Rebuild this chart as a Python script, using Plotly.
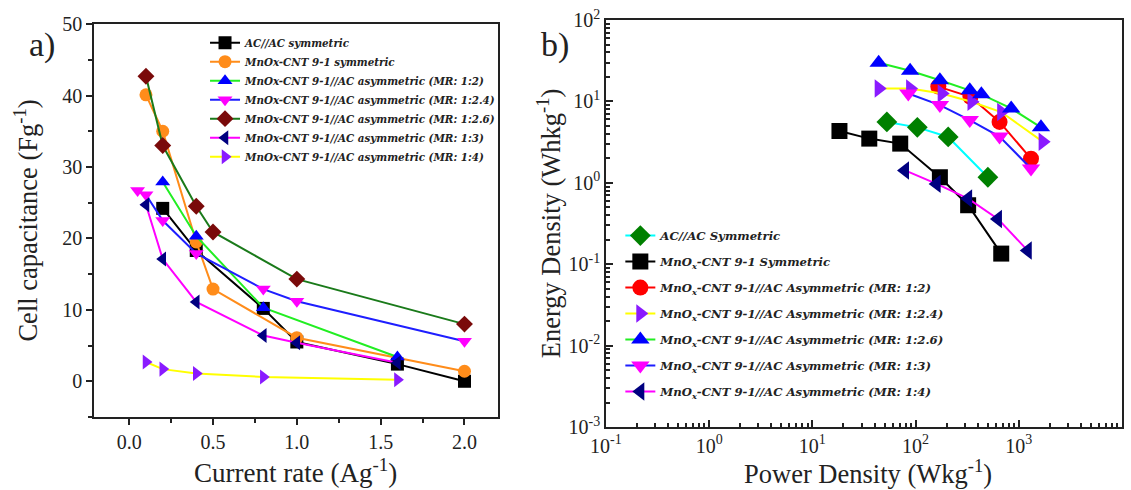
import math
import plotly.graph_objects as go

# ---------------- Panel a) : cell capacitance vs current rate ----------------
cur_ac = [0.2, 0.4, 0.8, 1.0, 1.6, 2.0]
cap_ac = [24.2, 18.3, 10.2, 5.5, 2.4, 0.0]

cur_mno = [0.1, 0.2, 0.4, 0.5, 1.0, 2.0]
cap_mno = [40.1, 35.0, 19.5, 12.9, 6.1, 1.4]

cur_mr2 = [0.2, 0.4, 0.8, 1.6]
cap_mr2 = [27.9, 20.3, 10.3, 3.4]

cur_mr24 = [0.05, 0.1, 0.2, 0.4, 0.8, 1.0, 2.0]
cap_mr24 = [26.7, 26.1, 22.5, 17.9, 12.9, 11.2, 5.6]

cur_mr26 = [0.1, 0.2, 0.4, 0.5, 1.0, 2.0]
cap_mr26 = [42.7, 33.0, 24.5, 20.9, 14.3, 8.0]

cur_mr3 = [0.1, 0.2, 0.4, 0.8, 1.0, 1.6]
cap_mr3 = [24.7, 17.1, 11.1, 6.4, 5.4, 2.6]

cur_mr4 = [0.1, 0.2, 0.4, 0.8, 1.6]
cap_mr4 = [2.7, 1.7, 1.1, 0.6, 0.2]

# ---------------- Panel b) : Ragone plot ----------------
pw_ac = [52.7, 104, 207, 502]
en_ac = [5.6, 4.8, 3.66, 1.17]

pw_mno = [18.3, 35.6, 71, 172, 323, 676]
en_mno = [4.33, 3.49, 3.03, 1.17, 0.53, 0.135]

pw_mr2 = [166, 340, 651, 1313]
en_mr2 = [15.2, 11.4, 5.6, 1.98]

pw_mr24 = [43.9, 88.5, 179, 348, 675, 1703]
en_mr24 = [14.4, 14.4, 12.5, 9.9, 7.4, 3.2]

pw_mr26 = [43.9, 88.5, 172, 335, 434, 844, 1640]
en_mr26 = [29.8, 23.8, 18.2, 13.7, 12.2, 8.2, 4.8]

pw_mr3 = [85, 172, 335, 651, 1313]
en_mr3 = [12.5, 9.0, 5.9, 3.7, 1.5]

pw_mr4 = [79, 160, 323, 628, 1222]
en_mr4 = [1.42, 0.97, 0.64, 0.36, 0.147]

names_a = ["AC//AC symmetric", "MnOx-CNT 9-1 symmetric",
           "MnOx-CNT 9-1//AC asymmetric (MR: 1:2)",
           "MnOx-CNT 9-1//AC asymmetric (MR: 1:2.4)",
           "MnOx-CNT 9-1//AC asymmetric (MR: 1:2.6)",
           "MnOx-CNT 9-1//AC asymmetric (MR: 1:3)",
           "MnOx-CNT 9-1//AC asymmetric (MR: 1:4)"]
names_b = ["AC//AC Symmetric", "MnO<sub>x</sub>-CNT 9-1 Symmetric",
           "MnO<sub>x</sub>-CNT 9-1//AC Asymmetric (MR: 1:2)",
           "MnO<sub>x</sub>-CNT 9-1//AC Asymmetric (MR: 1:2.4)",
           "MnO<sub>x</sub>-CNT 9-1//AC Asymmetric (MR: 1:2.6)",
           "MnO<sub>x</sub>-CNT 9-1//AC Asymmetric (MR: 1:3)",
           "MnO<sub>x</sub>-CNT 9-1//AC Asymmetric (MR: 1:4)"]

SERIF = "Liberation Serif"
LEGSERIF = "DejaVu Serif"
fig = go.Figure()


def add(x, y, name, lc, mc, sym, size, xa, ya, leg, grp=None):
    fig.add_trace(go.Scatter(
        x=x, y=y, name=name, mode="lines+markers",
        line=dict(color=lc, width=2),
        marker=dict(color=mc, symbol=sym, size=size, line=dict(width=0)),
        xaxis=xa, yaxis=ya, legend=leg, legendgroup=grp))


# panel a
sa = 13
add(cur_ac, cap_ac, names_a[0], "#000000", "#000000", "square", sa, "x", "y", "legend")
add(cur_mno, cap_mno, names_a[1], "#FF8C1A", "#FF8C1A", "circle", sa, "x", "y", "legend")
add(cur_mr2, cap_mr2, names_a[2], "#22EE22", "#0000FF", "triangle-up", sa, "x", "y", "legend")
add(cur_mr24, cap_mr24, names_a[3], "#1E1EFF", "#FF00FF", "triangle-down", sa, "x", "y", "legend")
add(cur_mr26, cap_mr26, names_a[4], "#1A7A1A", "#7A0A0A", "diamond", sa, "x", "y", "legend")
add(cur_mr3, cap_mr3, names_a[5], "#FF00FF", "#000080", "triangle-left", sa, "x", "y", "legend")
add(cur_mr4, cap_mr4, names_a[6], "#FFFF00", "#8A1AFF", "triangle-right", sa, "x", "y", "legend")

# panel b
sb = 16
add(pw_ac, en_ac, names_b[0], "#00FFFF", "#008000", "diamond", sb, "x2", "y2", "legend2", "b0")
add(pw_mno, en_mno, names_b[1], "#000000", "#000000", "square", sb, "x2", "y2", "legend2", "b1")
add(pw_mr2, en_mr2, names_b[2], "#FF0000", "#FF0000", "circle", sb, "x2", "y2", "legend2", "b2")
add(pw_mr24, en_mr24, names_b[3], "#FFFF00", "#8A1AFF", "triangle-right", sb, "x2", "y2", "legend2", "b3")
add(pw_mr26, en_mr26, names_b[4], "#22EE22", "#0000FF", "triangle-up", sb, "x2", "y2", "legend2", "b4")
add(pw_mr3, en_mr3, names_b[5], "#1E1EFF", "#FF00FF", "triangle-down", sb, "x2", "y2", "legend2", "b5")
add(pw_mr4, en_mr4, names_b[6], "#FF00FF", "#000080", "triangle-left", sb, "x2", "y2", "legend2", "b6")

tickfont = dict(family=SERIF, size=20, color="#222")
titlefont = dict(family=SERIF, size=26.5, color="#222")

decades_x = [0.1, 1, 10, 100, 1000, 10000]
decades_y = [0.001, 0.01, 0.1, 1, 10, 100]


def sup_label(v):
    return "10<sup>%d</sup>" % round(math.log10(v))


def minors(decs):
    out = []
    for d in decs[:-1]:
        out += [d * k for k in range(2, 10)]
    return out


axline = dict(showline=True, linecolor="#222", linewidth=1.5, mirror=True,
              showgrid=False, zeroline=False, tickcolor="#222", automargin=False)

fig.update_layout(
    width=1131, height=490,
    margin=dict(l=94, r=9, t=20, b=63),
    paper_bgcolor="white", plot_bgcolor="white",
    showlegend=True,
    xaxis=dict(domain=[0, 0.393], range=[-0.21, 2.2], dtick=0.5, tick0=0,
               tickformat=".1f", ticks="outside", ticklen=6, tickwidth=1.5,
               minor=dict(dtick=0.25, tick0=0, ticks="outside", ticklen=4, tickcolor="#222"),
               tickfont=tickfont, anchor="y", **axline),
    yaxis=dict(domain=[0.0246, 0.99], range=[-5, 50], dtick=10, tick0=0,
               ticks="outside", ticklen=6, tickwidth=1.5,
               minor=dict(dtick=5, tick0=0, ticks="outside", ticklen=4, tickcolor="#222"),
               tickfont=tickfont,
               title=dict(text="Cell capacitance (Fg<sup>-1</sup>)", font=titlefont, standoff=17),
               anchor="x", **axline),
    xaxis2=dict(domain=[0.498, 1.0], type="log", range=[-1, 4],
                tickmode="array", tickvals=decades_x, ticktext=[sup_label(v) for v in decades_x],
                ticks="inside", ticklen=7, tickwidth=1.5,
                minor=dict(tickmode="array", tickvals=minors(decades_x), ticks="inside",
                           ticklen=4, tickcolor="#222"),
                tickfont=tickfont, anchor="y2", **axline),
    yaxis2=dict(domain=[0, 1], type="log", range=[-3, 2],
                tickmode="array", tickvals=decades_y, ticktext=[sup_label(v) for v in decades_y],
                ticks="inside", ticklen=7, tickwidth=1.5,
                minor=dict(tickmode="array", tickvals=minors(decades_y), ticks="inside",
                           ticklen=4, tickcolor="#222"),
                tickfont=tickfont,
                title=dict(text="Energy Density (Whkg<sup>-1</sup>)", font=titlefont, standoff=0),
                anchor="x2", **axline),
    legend=dict(x=0.108, y=0.98, xanchor="left", yanchor="top",
                bgcolor="rgba(0,0,0,0)",
                font=dict(family=LEGSERIF, size=10.3, color="#222", style="italic", weight="bold"),
                tracegroupgap=0, itemwidth=30),
    legend2=dict(x=0.512, y=0.506, xanchor="left", yanchor="top",
                 bgcolor="rgba(0,0,0,0)",
                 font=dict(family=LEGSERIF, size=11.7, color="#222", style="italic", weight="bold"),
                 tracegroupgap=7, itemwidth=30),
    annotations=[
        dict(text="a)", x=-0.0506, y=0.9386, xref="paper", yref="paper",
             xanchor="center", yanchor="middle",
             showarrow=False, font=dict(family=SERIF, size=34, color="#222")),
        dict(text="b)", x=0.4484, y=0.9386, xref="paper", yref="paper",
             xanchor="center", yanchor="middle",
             showarrow=False, font=dict(family=SERIF, size=34, color="#222")),
        # x-axis titles (placed as annotations for exact position)
        dict(text="Current rate (Ag<sup>-1</sup>)", x=(295 - 94) / 1028, y=(427 - 471) / 407,
             xref="paper", yref="paper", xanchor="center", yanchor="middle",
             showarrow=False, font=dict(family=SERIF, size=27, color="#222")),
        dict(text="Power Density (Wkg<sup>-1</sup>)", x=(868 - 94) / 1028, y=(427 - 472) / 407,
             xref="paper", yref="paper", xanchor="center", yanchor="middle",
             showarrow=False, font=dict(family=SERIF, size=26.5, color="#222")),
    ],
)

fig.write_html("out.html", config={"displayModeBar": False},
               post_script="document.body.style.margin='0px';")
